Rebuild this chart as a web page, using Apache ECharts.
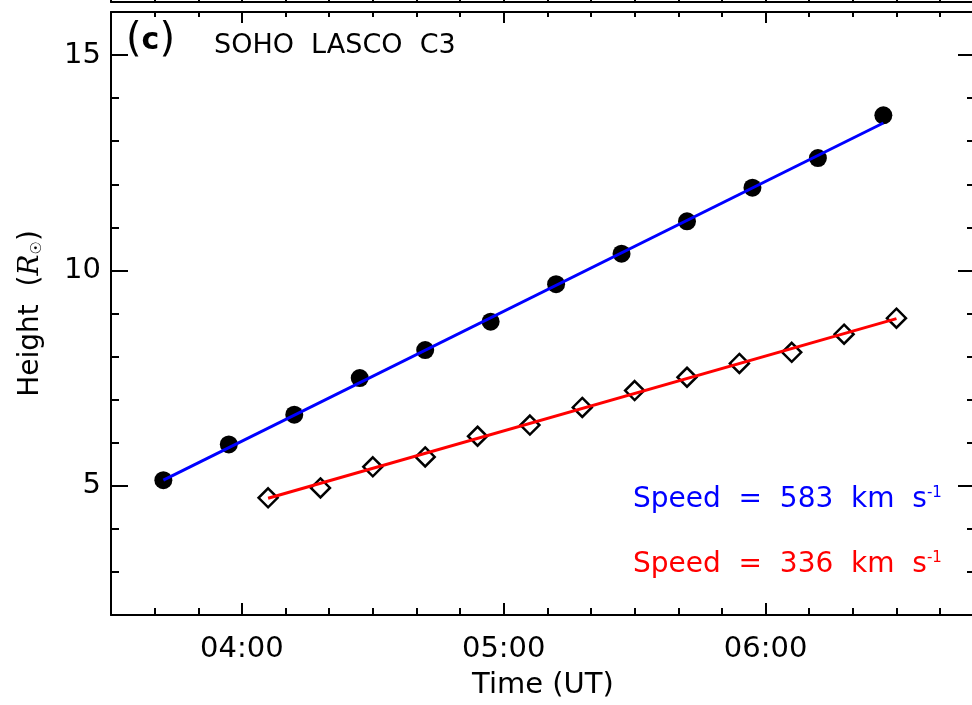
<!DOCTYPE html>
<html>
<head>
<meta charset="utf-8">
<title>SOHO LASCO C3 height-time</title>
<script src="https://cdn.jsdelivr.net/npm/echarts@6/dist/echarts.min.js"></script>
<style>
  html, body { margin: 0; padding: 0; background: #fff; }
  #chart { width: 972px; height: 705px; }
</style>
</head>
<body>
<div id="chart"></div>
<script>
// Leading-edge front (filled circles), times in UT and heights in solar radii
const leadingTimes = ['03:42', '03:57', '04:12', '04:27', '04:42', '04:57', '05:12', '05:27', '05:42', '05:57', '06:12', '06:27'];
const leadingHeights = [5.13, 5.96, 6.65, 7.50, 8.15, 8.81, 9.68, 10.39, 11.14, 11.92, 12.61, 13.60];

// Second tracked feature (open diamonds)
const coreTimes = ['04:06', '04:18', '04:30', '04:42', '04:54', '05:06', '05:18', '05:30', '05:42', '05:54', '06:06', '06:18', '06:30'];
const coreHeights = [4.72, 4.95, 5.44, 5.67, 6.15, 6.41, 6.82, 7.21, 7.52, 7.84, 8.10, 8.52, 8.89];

// Linear fits: speed (km/s) and fitted height at the first time of each track
const fitSpeeds = [583, 336];
const fitStartHeights = [5.13, 4.71];

// Axis labels
const xTickLabels = ['04:00', '05:00', '06:00'];
const yTickLabels = [5, 10, 15];

const RSUN_KM = 696000;
const FONT = '"DejaVu Sans", sans-serif';

const toMin = s => { const [h, m] = s.split(':').map(Number); return h * 60 + m; };
const fmtMin = v => String(Math.floor(v / 60)).padStart(2, '0') + ':' + String(v % 60).padStart(2, '0');

const X_MIN = toMin('03:30');
const X_MAX = toMin('06:48');
const Y_MIN = 2, Y_MAX = 16;

const xMinor = [];
for (let t = X_MIN; t <= X_MAX; t += 10) xMinor.push(t);
const xMajor = xTickLabels.map(toMin);
const yMinor = [];
for (let v = Y_MIN; v <= Y_MAX; v += 1) yMinor.push(v);

function fitLine(times, speed, h0) {
  const t0 = toMin(times[0]);
  const t1 = toMin(times[times.length - 1]);
  const slope = speed * 60 / RSUN_KM; // radii per minute
  return [[t0, h0], [t1, h0 + slope * (t1 - t0)]];
}

const leadingData = leadingTimes.map((t, i) => [toMin(t), leadingHeights[i]]);
const coreData = coreTimes.map((t, i) => [toMin(t), coreHeights[i]]);

const black = '#000';
const line2 = { show: true, onZero: false, lineStyle: { color: black, width: 2 } };
const noLine = { show: false };

function xAx(opts) {
  return Object.assign({
    type: 'value', min: X_MIN, max: X_MAX, gridIndex: 0,
    splitLine: { show: false }, axisLabel: { show: false }, axisLine: noLine
  }, opts);
}
function yAx(opts) {
  return Object.assign({
    type: 'value', min: Y_MIN, max: Y_MAX, gridIndex: 0,
    splitLine: { show: false }, axisLabel: { show: false }, axisLine: noLine
  }, opts);
}
function ticks(values, len) {
  return { show: true, inside: true, length: len, customValues: values, lineStyle: { color: black, width: 2 } };
}

const chart = echarts.init(document.getElementById('chart'), null, { renderer: 'canvas' });

chart.setOption({
  animation: false,
  backgroundColor: '#fff',
  grid: [
    { left: 111, top: 12, right: -3, bottom: 90, outerBoundsMode: 'none', containLabel: false },
    { left: 111, top: -60, right: -3, height: 62, outerBoundsMode: 'none', containLabel: false }
  ],
  xAxis: [
    xAx({
      position: 'bottom', axisLine: line2, axisTick: ticks(xMinor, 7),
      axisLabel: { show: true, customValues: xMajor, formatter: v => fmtMin(v), color: black, fontSize: 29, fontFamily: FONT, margin: 20 },
      name: 'Time (UT)', nameLocation: 'middle', nameGap: 56,
      nameTextStyle: { color: black, fontSize: 29, fontFamily: FONT }
    }),
    xAx({ position: 'bottom', axisTick: ticks(xMajor, 12) }),
    xAx({ position: 'top', axisLine: line2, axisTick: ticks(xMinor, 5) }),
    xAx({ position: 'top', axisTick: ticks(xMajor, 11) }),
    xAx({ gridIndex: 1, position: 'bottom', axisLine: line2, axisTick: ticks(xMinor, 7) })
  ],
  yAxis: [
    yAx({
      position: 'left', axisLine: line2, axisTick: ticks(yMinor, 8),
      axisLabel: { show: true, customValues: yTickLabels, color: black, fontSize: 29, fontFamily: FONT, margin: 10 },
      name: 'Height  ({r|R}{sub|☉})', nameLocation: 'middle', nameGap: 66,
      nameTextStyle: {
        color: black, fontSize: 28, fontFamily: FONT,
        rich: {
          r: { fontSize: 28, fontFamily: '"DejaVu Serif", serif', fontStyle: 'italic', color: black },
          sub: { fontSize: 15, fontFamily: FONT, color: black, verticalAlign: 'bottom', lineHeight: 14 }
        }
      }
    }),
    yAx({ position: 'left', axisTick: ticks(yTickLabels, 17) }),
    yAx({ position: 'right', axisLine: line2, axisTick: ticks(yMinor, 8) }),
    yAx({ position: 'right', axisTick: ticks(yTickLabels, 17) }),
    yAx({ gridIndex: 1, position: 'left', axisLine: line2, axisTick: { show: false } })
  ],
  series: [
    {
      type: 'scatter', xAxisIndex: 0, yAxisIndex: 0, data: leadingData,
      symbol: 'circle', symbolSize: 18, itemStyle: { color: black, opacity: 1 }, z: 2
    },
    {
      type: 'scatter', xAxisIndex: 0, yAxisIndex: 0, data: coreData,
      symbol: 'diamond', symbolSize: 19,
      itemStyle: { color: 'rgba(0,0,0,0)', borderColor: black, borderWidth: 2.5, opacity: 1 }, z: 2
    },
    {
      type: 'line', xAxisIndex: 0, yAxisIndex: 0,
      data: fitLine(leadingTimes, fitSpeeds[0], fitStartHeights[0]),
      showSymbol: false, lineStyle: { color: '#0000ff', width: 3 }, z: 3
    },
    {
      type: 'line', xAxisIndex: 0, yAxisIndex: 0,
      data: fitLine(coreTimes, fitSpeeds[1], fitStartHeights[1]),
      showSymbol: false, lineStyle: { color: '#ff0000', width: 3 }, z: 3
    }
  ],
  graphic: [
    {
      type: 'text', x: 126, y: 41,
      style: {
        text: '{p|(}{c|c}{p|)}', textAlign: 'left', textVerticalAlign: 'middle',
        rich: {
          p: { fontSize: 40, fontFamily: FONT, fill: black, color: black },
          c: { fontSize: 30, fontFamily: FONT, fontWeight: 'bold', fill: black, color: black }
        }
      }
    },
    {
      type: 'text', x: 214, y: 46,
      style: { text: 'SOHO  LASCO  C3', font: '27px ' + FONT, fill: black, textAlign: 'left', textVerticalAlign: 'middle' }
    },
    {
      type: 'text', x: 633, y: 500,
      style: {
        text: 'Speed  =  ' + fitSpeeds[0] + '  km  s{sup|-1}', font: '28px ' + FONT, fill: '#0000ff',
        textAlign: 'left', textVerticalAlign: 'middle',
        rich: { sup: { fontSize: 15, fontFamily: FONT, fill: '#0000ff', color: '#0000ff', verticalAlign: 'top', lineHeight: 14 } }
      }
    },
    {
      type: 'text', x: 633, y: 565,
      style: {
        text: 'Speed  =  ' + fitSpeeds[1] + '  km  s{sup|-1}', font: '28px ' + FONT, fill: '#ff0000',
        textAlign: 'left', textVerticalAlign: 'middle',
        rich: { sup: { fontSize: 15, fontFamily: FONT, fill: '#ff0000', color: '#ff0000', verticalAlign: 'top', lineHeight: 14 } }
      }
    }
  ]
});
</script>
</body>
</html>
